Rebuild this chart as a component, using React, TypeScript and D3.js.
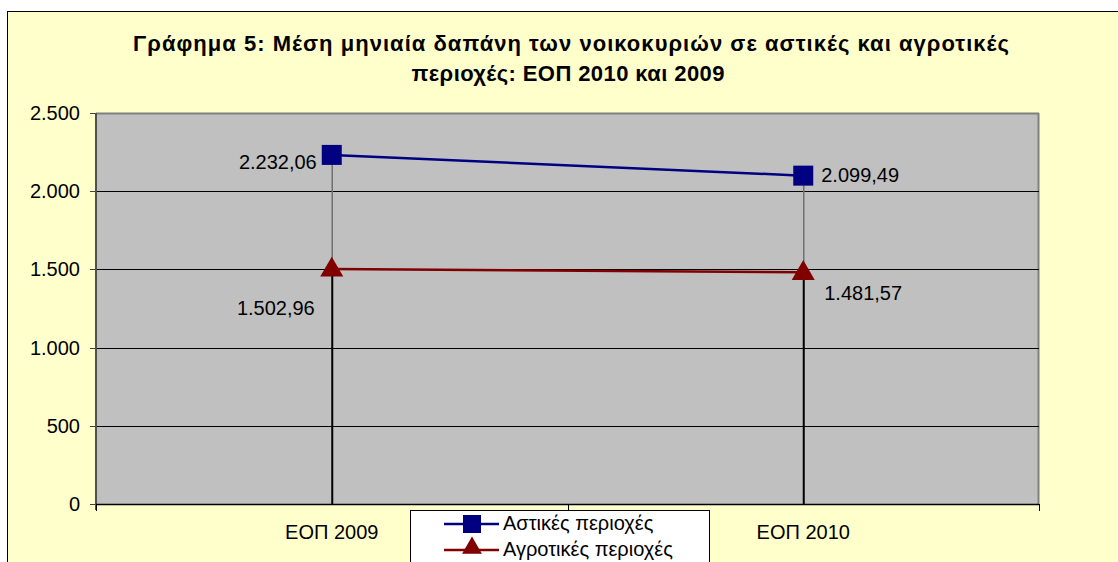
import React from "react";
import * as d3 from "d3";

const categories = ["ΕΟΠ 2009", "ΕΟΠ 2010"];
const urbanValues = [2232.06, 2099.49];
const ruralValues = [1502.96, 1481.57];
const urbanLabels = ["2.232,06", "2.099,49"];
const ruralLabels = ["1.502,96", "1.481,57"];
const yTicks = [0, 500, 1000, 1500, 2000, 2500];
const yTickLabels = ["0", "500", "1.000", "1.500", "2.000", "2.500"];
const seriesNames = ["Αστικές περιοχές", "Αγροτικές περιοχές"];
const titleLines = [
  "Γράφημα 5: Μέση μηνιαία δαπάνη των  νοικοκυριών σε αστικές και αγροτικές",
  "περιοχές: ΕΟΠ 2010 και 2009",
];

const W = 1118;
const H = 562;
const plot = { left: 96, right: 1039, top: 113, bottom: 504 };
const BLUE = "#000080";
const RED = "#800000";
const FONT = "'Liberation Sans', Arial, sans-serif";

export default function App() {
  const x = d3
    .scaleBand<string>()
    .domain(categories)
    .range([plot.left, plot.right])
    .paddingInner(0)
    .paddingOuter(0);
  const y = d3.scaleLinear().domain([0, 2500]).range([plot.bottom, plot.top]);
  const cx = (c: string) => (x(c) as number) + x.bandwidth() / 2;

  const line = d3
    .line<[number, number]>()
    .x((d) => d[0])
    .y((d) => d[1]);
  const urbanPts: [number, number][] = categories.map((c, i) => [cx(c), y(urbanValues[i])]);
  const ruralPts: [number, number][] = categories.map((c, i) => [cx(c), y(ruralValues[i])]);

  const tri = d3.symbol().type(d3.symbolTriangle).size(230)();
  const triSmall = d3.symbol().type(d3.symbolTriangle).size(170)();

  const boundaries = [plot.left, ...categories.map((c) => (x(c) as number) + x.bandwidth())];

  const labelStyle = { fontFamily: FONT, fontSize: 20, fill: "#000" } as const;

  return (
    <svg
      width={W}
      height={H}
      style={{ position: "absolute", left: 0, top: 0, display: "block", background: "#fff" }}
    >
      <rect x={7.5} y={11.5} width={1300} height={700} fill="#FFFFCC" stroke="#000" strokeWidth={1} />
      {/* title */}
      <text
        x={571}
        y={51}
        textAnchor="middle"
        fontFamily={FONT}
        fontWeight="bold"
        fontSize={22}
        textLength={876}
        lengthAdjust="spacing"
      >
        {titleLines[0]}
      </text>
      <text
        x={568}
        y={81}
        textAnchor="middle"
        fontFamily={FONT}
        fontWeight="bold"
        fontSize={22}
        textLength={313}
        lengthAdjust="spacing"
      >
        {titleLines[1]}
      </text>

      {/* plot area */}
      <rect
        x={plot.left}
        y={plot.top}
        width={plot.right - plot.left}
        height={plot.bottom - plot.top}
        fill="#C0C0C0"
      />
      <line x1={plot.left} x2={plot.right} y1={plot.top + 0.5} y2={plot.top + 0.5} stroke="#808080" strokeWidth={2} />
      <line x1={plot.right - 0.5} x2={plot.right - 0.5} y1={plot.top} y2={plot.bottom} stroke="#808080" strokeWidth={2} />

      {/* gridlines and y ticks */}
      {yTicks.map((t, i) => (
        <g key={t}>
          {t > 0 && t < 2500 && (
            <line
              x1={plot.left}
              x2={plot.right}
              y1={Math.round(y(t)) + 0.5}
              y2={Math.round(y(t)) + 0.5}
              stroke="#000"
              strokeWidth={1}
            />
          )}
          <line
            x1={plot.left - 6}
            x2={plot.left}
            y1={Math.round(y(t)) + 0.5}
            y2={Math.round(y(t)) + 0.5}
            stroke="#404040"
            strokeWidth={1}
          />
          <text x={80} y={y(t)} dy="0.35em" textAnchor="end" {...labelStyle}>
            {yTickLabels[i]}
          </text>
        </g>
      ))}

      {/* drop lines */}
      {categories.map((c, i) => (
        <g key={"drop" + c}>
          <line
            x1={cx(c) + 0.5}
            x2={cx(c) + 0.5}
            y1={y(urbanValues[i])}
            y2={y(ruralValues[i])}
            stroke="#707070"
            strokeWidth={1.5}
          />
          <line
            x1={cx(c) + 0.5}
            x2={cx(c) + 0.5}
            y1={y(ruralValues[i])}
            y2={plot.bottom}
            stroke="#000"
            strokeWidth={2}
          />
        </g>
      ))}

      {/* axes */}
      <line x1={plot.left} x2={plot.left} y1={plot.top} y2={plot.bottom + 6} stroke="#505050" strokeWidth={2} />
      <line x1={plot.left} x2={plot.right} y1={plot.bottom + 0.5} y2={plot.bottom + 0.5} stroke="#000" strokeWidth={1.5} />
      {boundaries.map((b, i) => (
        <line
          key={"bt" + i}
          x1={Math.round(b) + 0.5}
          x2={Math.round(b) + 0.5}
          y1={plot.bottom}
          y2={plot.bottom + 7}
          stroke="#000"
          strokeWidth={1}
        />
      ))}
      {categories.map((c) => (
        <text key={"cl" + c} x={cx(c)} y={532} dy="0.35em" textAnchor="middle" {...labelStyle}>
          {c}
        </text>
      ))}

      {/* series lines */}
      <path d={line(urbanPts) || ""} fill="none" stroke={BLUE} strokeWidth={2.5} />
      <path d={line(ruralPts) || ""} fill="none" stroke={RED} strokeWidth={2.5} />
      {urbanPts.map((p, i) => (
        <rect key={"u" + i} x={p[0] - 10} y={p[1] - 10} width={20} height={20} fill={BLUE} />
      ))}
      {ruralPts.map((p, i) => (
        <path key={"r" + i} d={tri || ""} transform={`translate(${p[0]},${p[1] + 1})`} fill={RED} />
      ))}

      {/* data labels */}
      <text x={urbanPts[0][0] - 15} y={urbanPts[0][1] + 7} dy="0.35em" textAnchor="end" {...labelStyle}>
        {urbanLabels[0]}
      </text>
      <text x={ruralPts[0][0] - 17} y={ruralPts[0][1] + 39} dy="0.35em" textAnchor="end" {...labelStyle}>
        {ruralLabels[0]}
      </text>
      <text x={urbanPts[1][0] + 18} y={urbanPts[1][1] - 1} dy="0.35em" textAnchor="start" {...labelStyle}>
        {urbanLabels[1]}
      </text>
      <text x={ruralPts[1][0] + 21} y={ruralPts[1][1] + 21} dy="0.35em" textAnchor="start" {...labelStyle}>
        {ruralLabels[1]}
      </text>

      {/* legend */}
      <rect x={410.5} y={510.5} width={299} height={100} fill="#fff" stroke="#000" strokeWidth={1} />
      {seriesNames.map((s, i) => {
        const ry = 524 + i * 26;
        const color = i === 0 ? BLUE : RED;
        return (
          <g key={s}>
            <line x1={444} x2={499} y1={ry} y2={ry} stroke={color} strokeWidth={2.5} />
            {i === 0 ? (
              <rect x={472 - 9} y={ry - 9} width={18} height={18} fill={color} />
            ) : (
              <path d={triSmall || ""} transform={`translate(${472},${ry - 2})`} fill={color} />
            )}
            <text x={503} y={ry} dy="0.3em" {...labelStyle}>
              {s}
            </text>
          </g>
        );
      })}
    </svg>
  );
}
